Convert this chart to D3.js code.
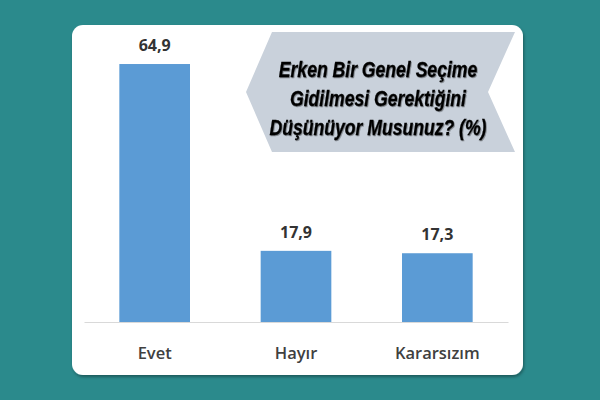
<!DOCTYPE html>
<html><head><meta charset="utf-8">
<script src="https://cdn.jsdelivr.net/npm/d3@7"></script>
<style>html,body{margin:0;padding:0;background:#2b8a8c;}svg{display:block;}</style>
</head><body>
<script>
const categories = ["Evet", "Hayır", "Kararsızım"];
const values = [64.9, 17.9, 17.3];
const valueLabels = ["64,9", "17,9", "17,3"];
const titleLines = ["Erken Bir Genel Seçime", "Gidilmesi Gerektiğini", "Düşünüyor Musunuz? (%)"];

const W = 600, H = 400;
const svg = d3.select("body").append("svg").attr("width", W).attr("height", H);
svg.append("rect").attr("width", W).attr("height", H).attr("fill", "#2b8a8c");

const defs = svg.append("defs");
const f = defs.append("filter").attr("id", "sh").attr("x", "-10%").attr("y", "-10%").attr("width", "120%").attr("height", "120%");
f.append("feDropShadow").attr("dx", 1).attr("dy", 2).attr("stdDeviation", 1.5).attr("flood-color", "#000").attr("flood-opacity", 0.35);
const tf = defs.append("filter").attr("id", "tsh").attr("x", "-10%").attr("y", "-30%").attr("width", "120%").attr("height", "160%");
tf.append("feDropShadow").attr("dx", 1).attr("dy", 1).attr("stdDeviation", 0.7).attr("flood-color", "#000").attr("flood-opacity", 0.4);

// panel
svg.append("rect").attr("x", 72).attr("y", 25).attr("width", 451).attr("height", 350)
  .attr("rx", 11).attr("fill", "#ffffff").attr("filter", "url(#sh)");

const x = d3.scaleBand().domain(categories).range([84, 508]).paddingInner(0.5).paddingOuter(0.25);
const y = d3.scaleLinear().domain([0, 70]).range([322, 322 - 70 * 3.975]);

// baseline axis
const ax = svg.append("g").attr("transform", "translate(0,322)")
  .call(d3.axisBottom(x).tickSize(0).tickPadding(0));
ax.select(".domain").attr("stroke", "#d9d9d9").attr("stroke-width", 1.2);
ax.selectAll(".tick text").remove();

svg.selectAll("rect.bar").data(values).join("rect").attr("class", "bar")
  .attr("x", (d, i) => x(categories[i]))
  .attr("width", x.bandwidth())
  .attr("y", d => y(d))
  .attr("height", d => y(0) - y(d))
  .attr("fill", "#5b9bd5");

svg.selectAll("text.val").data(values).join("text").attr("class", "val")
  .attr("x", (d, i) => x(categories[i]) + x.bandwidth() / 2)
  .attr("y", d => y(d) - 13)
  .attr("text-anchor", "middle")
  .attr("font-family", "'Open Sans', sans-serif").attr("font-weight", 700)
  .attr("font-size", 16).attr("fill", "#333333")
  .text((d, i) => valueLabels[i]);

svg.selectAll("text.cat").data(categories).join("text").attr("class", "cat")
  .attr("x", d => x(d) + x.bandwidth() / 2)
  .attr("y", 359)
  .attr("text-anchor", "middle")
  .attr("font-family", "'Open Sans', sans-serif").attr("font-weight", 600)
  .attr("font-size", 16.5).attr("fill", "#404040")
  .text(d => d);

// title shape
const shape = [[272, 32], [515, 32], [488, 92], [515, 152], [272, 152], [246, 92]];
svg.append("path").attr("d", d3.line()(shape) + "Z").attr("fill", "#c9d1db");

svg.append("g").attr("transform", "translate(378,0) scale(0.8,1)")
  .selectAll("text.title").data(titleLines).join("text").attr("class", "title")
  .attr("x", 0).attr("y", (d, i) => 77 + i * 29)
  .attr("text-anchor", "middle")
  .attr("font-family", "'Liberation Sans', Arial, sans-serif").attr("font-weight", 700)
  .attr("font-style", "italic").attr("font-size", 22).attr("fill", "#000")
  .attr("stroke", "#000").attr("stroke-width", 0.3)
  .attr("filter", "url(#tsh)")
  .text(d => d);
</script>
</body></html>
